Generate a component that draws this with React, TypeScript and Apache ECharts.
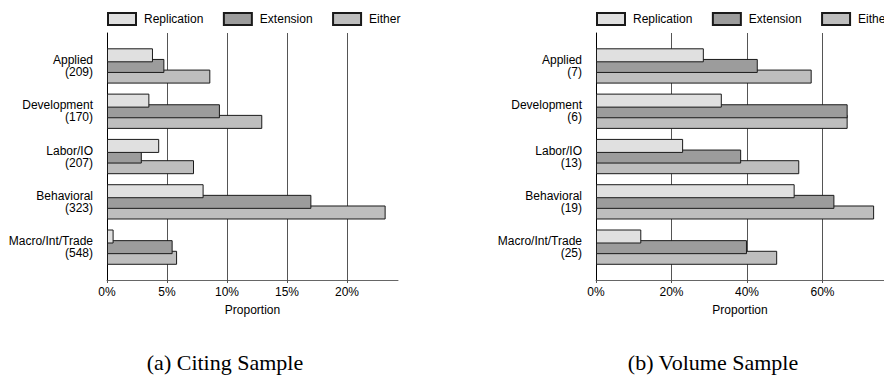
import React, { useEffect, useRef } from "react";
import * as echarts from "echarts";

const categories = ["Applied", "Development", "Labor/IO", "Behavioral", "Macro/Int/Trade"];
const citingCounts = [209, 170, 207, 323, 548];
const volumeCounts = [7, 6, 13, 19, 25];
const seriesNames = ["Replication", "Extension", "Either"];

const citingReplication = [0.0383, 0.0353, 0.0435, 0.0805, 0.0055];
const citingExtension = [0.0478, 0.0941, 0.029, 0.1703, 0.0547];
const citingEither = [0.0861, 0.1294, 0.0725, 0.2322, 0.0584];

const volumeReplication = [0.2857, 0.3333, 0.2308, 0.5263, 0.12];
const volumeExtension = [0.4286, 0.6667, 0.3846, 0.6316, 0.4];
const volumeEither = [0.5714, 0.6667, 0.5385, 0.7368, 0.48];

const citingTicks = [0, 0.05, 0.1, 0.15, 0.2];
const citingMax = 0.2425;
const volumeTicks = [0, 0.2, 0.4, 0.6];
const volumeMax = 0.763;

const colors = ["#e0e0e0", "#9c9c9c", "#bebebe"];
const FONT = "Liberation Sans";

export default function App() {
  const ref = useRef<HTMLDivElement>(null);
  useEffect(() => {
    document.body.style.margin = "0";
    if (!ref.current) return;
    const chart = echarts.init(ref.current, null, { renderer: "svg" });

    const panels = [
      { left: 107, width: 291, counts: citingCounts, ticks: citingTicks, max: citingMax, data: [citingReplication, citingExtension, citingEither] },
      { left: 596, width: 288, counts: volumeCounts, ticks: volumeTicks, max: volumeMax, data: [volumeReplication, volumeExtension, volumeEither] },
    ];

    const grid: any[] = [];
    const xAxis: any[] = [];
    const yAxis: any[] = [];
    const series: any[] = [];
    const legend: any[] = [];

    panels.forEach((p, i) => {
      grid.push({ left: p.left, width: p.width, top: 33, height: 247 });
      grid.push({ left: p.left, width: p.width, top: 43.3, height: 226.5 });
      const ga = i * 2;
      const gb = i * 2 + 1;
      xAxis.push({
        type: "value",
        gridIndex: ga,
        min: 0,
        max: p.max,
        interval: p.ticks[1],
        name: "Proportion",
        nameLocation: "middle",
        nameGap: 24,
        nameTextStyle: { fontFamily: FONT, fontSize: 12, color: "#000" },
        axisLine: { show: true, lineStyle: { color: "#666", width: 1 } },
        axisTick: { show: true, length: 3, customValues: p.ticks, lineStyle: { color: "#555" } },
        axisLabel: {
          fontFamily: FONT,
          fontSize: 12,
          color: "#000",
          margin: 6,
          customValues: p.ticks,
          formatter: (v: number) => Math.round(v * 100) + "%",
        },
        splitLine: { show: true, lineStyle: { color: "#555", width: 1 } },
      });
      xAxis.push({
        type: "value",
        gridIndex: gb,
        min: 0,
        max: p.max,
        show: false,
        splitLine: { show: false },
      });
      yAxis.push({
        type: "value",
        gridIndex: ga,
        min: 0,
        max: 1,
        offset: 9,
        axisLine: { show: true, lineStyle: { color: "#000", width: 1 } },
        axisTick: { show: false },
        axisLabel: { show: false },
        splitLine: { show: false },
      });
      yAxis.push({
        type: "category",
        gridIndex: gb,
        inverse: true,
        data: categories.map((c, k) => `${c}\n(${p.counts[k]})`),
        axisLine: { show: false },
        axisTick: { show: false },
        axisLabel: {
          fontFamily: FONT,
          fontSize: 12,
          lineHeight: 12,
          color: "#000",
          align: "right",
          margin: 14,
        },
      });
      seriesNames.forEach((name, s) => {
        series.push({
          type: "bar",
          name,
          xAxisIndex: gb,
          yAxisIndex: gb,
          data: p.data[s],
          barWidth: 14,
          barGap: "-24%",
          z: 5 - s,
          itemStyle: { color: colors[s], borderColor: "#1a1a1a", borderWidth: 1 },
        });
      });
      legend.push({
        data: seriesNames,
        left: p.left,
        top: 12,
        width: 600,
        padding: 0,
        icon: "rect",
        itemWidth: 28,
        itemHeight: 12,
        itemGap: 19.5,
        selectedMode: false,
        textStyle: { fontFamily: FONT, fontSize: 12, color: "#000", padding: [0, 0, 0, 3] },
      });
    });

    chart.setOption({
      animation: false,
      backgroundColor: "#fff",
      grid,
      xAxis,
      yAxis,
      series,
      legend,
      graphic: [
        {
          type: "text",
          x: 225,
          y: 362,
          style: {
            text: "(a) Citing Sample",
            fontFamily: "Liberation Serif",
            fontSize: 22,
            fill: "#000",
            align: "center",
            verticalAlign: "middle",
          },
        },
        {
          type: "text",
          x: 713,
          y: 362,
          style: {
            text: "(b) Volume Sample",
            fontFamily: "Liberation Serif",
            fontSize: 22,
            fill: "#000",
            align: "center",
            verticalAlign: "middle",
          },
        },
      ],
    });
    return () => chart.dispose();
  }, []);
  return <div ref={ref} style={{ width: 884, height: 377 }} />;
}
